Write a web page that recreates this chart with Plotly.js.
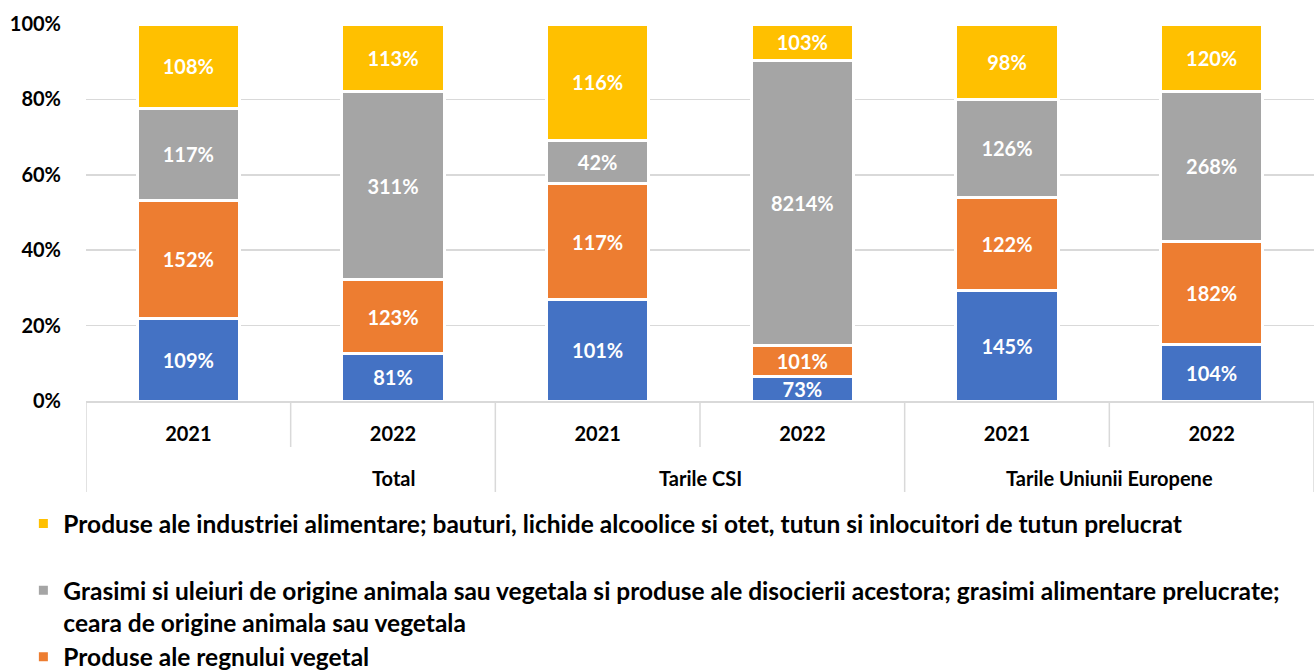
<!DOCTYPE html>
<html>
<head>
<meta charset="utf-8">
<script src="https://cdn.plot.ly/plotly-3.0.1.min.js"></script>
<style>html,body{margin:0;padding:0;background:#fff;}#chart{width:1314px;height:672px;}</style>
</head>
<body>
<div id="chart"></div>
<script>
// Bars: Total 2021, Total 2022, CSI 2021, CSI 2022, UE 2021, UE 2022
var years = ["2021", "2022", "2021", "2022", "2021", "2022"];
var groups = ["Total", "Tarile CSI", "Tarile Uniunii Europene"];

var seriesNames = [
  "Animale vii si produse ale regnului animal",
  "Produse ale regnului vegetal",
  "Grasimi si uleiuri de origine animala sau vegetala si produse ale disocierii acestora; grasimi alimentare prelucrate;<br>ceara de origine animala sau vegetala",
  "Produse ale industriei alimentare; bauturi, lichide alcoolice si otet, tutun si inlocuitori de tutun prelucrat<br> "
];
var colors = ["#4472C4", "#ED7D31", "#A5A5A5", "#FFC000"];
// the first series' legend entry lies below the visible picture
var inLegend = [false, true, true, true];

// shares of each bar (percent)
var shareAnimal   = [22.0, 12.7, 26.8, 6.4, 29.2, 15.1];
var shareVegetal  = [31.3, 19.4, 31.0, 8.2, 24.9, 27.3];
var shareGrasimi  = [24.2, 49.9, 11.2, 75.8, 26.0, 39.8];
var shareAlim     = [22.5, 18.0, 31.0, 9.6, 19.9, 17.8];

// labels shown in segments (growth indices)
var lblAnimal  = ["109%", "81%", "101%", "73%", "145%", "104%"];
var lblVegetal = ["152%", "123%", "117%", "101%", "122%", "182%"];
var lblGrasimi = ["117%", "311%", "42%", "8214%", "126%", "268%"];
var lblAlim    = ["108%", "113%", "116%", "103%", "98%", "120%"];

var shares = [shareAnimal, shareVegetal, shareGrasimi, shareAlim];
var labels = [lblAnimal, lblVegetal, lblGrasimi, lblAlim];

var FONT = "Lato, 'Open Sans', sans-serif";
var xs = years.map(function(_, i){ return i; });

var traces = shares.map(function(s, k){
  return {
    type: "bar",
    x: xs,
    y: s,
    name: seriesNames[k],
    showlegend: inLegend[k],
    text: labels[k],
    textposition: "inside",
    insidetextanchor: "middle",
    constraintext: "none",
    textfont: {family: FONT, size: 20, color: "#ffffff", weight: "bold"},
    marker: {color: colors[k], line: {color: "#ffffff", width: 3}},
    width: 0.5,
    hoverinfo: "skip"
  };
});

function yPaper(px){ return (401 - px) / 377; }

var shapes = [];
[-0.5, 1.5, 3.5, 5.5].forEach(function(v){
  shapes.push({type: "line", xref: "x", yref: "paper", x0: v, x1: v, y0: 0, y1: yPaper(492),
    line: {color: "#d9d9d9", width: 1.5}});
});
[0.5, 2.5, 4.5].forEach(function(v){
  shapes.push({type: "line", xref: "x", yref: "paper", x0: v, x1: v, y0: 0, y1: yPaper(447),
    line: {color: "#d9d9d9", width: 1.5}});
});

var groupPos = [1, 2.5, 4.5];
var annotations = groups.map(function(g, i){
  return {text: g, xref: "x", yref: "paper", x: groupPos[i], y: yPaper(478),
    showarrow: false, xanchor: "center", yanchor: "middle",
    font: {family: FONT, size: 20, color: "#000", weight: "bold"}};
});

var layout = {
  width: 1314, height: 672,
  margin: {l: 86, r: 0, t: 24, b: 271, autoexpand: false},
  barmode: "stack",
  barnorm: "percent",
  paper_bgcolor: "#fff", plot_bgcolor: "#fff",
  font: {family: FONT, size: 20, color: "#000", weight: "bold"},
  xaxis: {
    range: [-0.5, 5.5],
    tickvals: xs, ticktext: years,
    showgrid: false, zeroline: false,
    showline: true, linecolor: "#d9d9d9", linewidth: 1.5,
    ticks: "", ticklabelstandoff: 14,
    tickfont: {family: FONT, size: 20, color: "#000", weight: "bold"},
    fixedrange: true
  },
  yaxis: {
    range: [0, 100], dtick: 20, ticksuffix: "%",
    showgrid: true, gridcolor: "#d9d9d9", gridwidth: 1.5,
    zeroline: false, showline: false, ticks: "",
    ticklabelstandoff: 24,
    tickfont: {family: FONT, size: 20, color: "#000", weight: "bold"},
    fixedrange: true
  },
  showlegend: true,
  legend: {
    orientation: "v", traceorder: "reversed",
    x: -0.051, xanchor: "left", y: yPaper(501), yanchor: "top",
    valign: "top",
    font: {family: FONT, size: 24.5, color: "#000", weight: "bold"},
    bgcolor: "rgba(0,0,0,0)"
  },
  shapes: shapes,
  annotations: annotations,
  hovermode: false
};

Plotly.newPlot("chart", traces, layout, {displayModeBar: false, staticPlot: true});
</script>
</body>
</html>
